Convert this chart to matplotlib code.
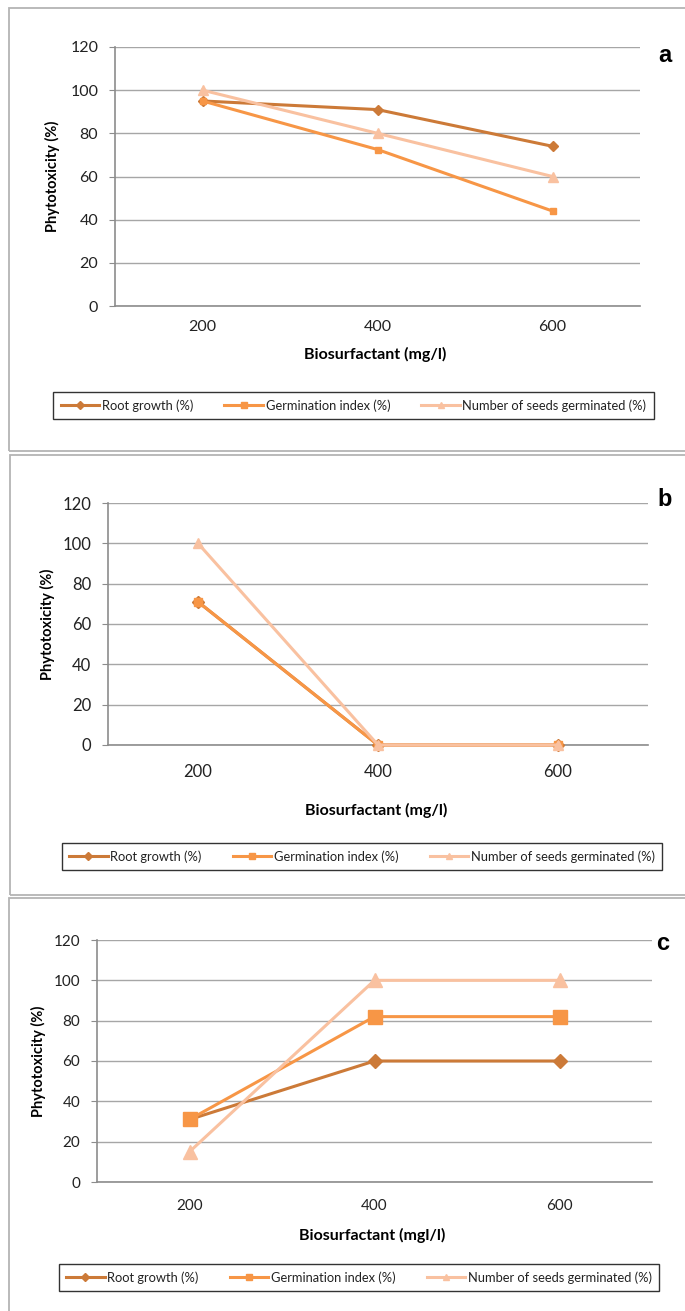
import matplotlib
matplotlib.use("Agg")
import matplotlib.pyplot as plt
from matplotlib.patches import Rectangle
from matplotlib.lines import Line2D

# ---- data ----
categories = ["200", "400", "600"]
series_names = ["Root growth (%)", "Germination index (%)", "Number of seeds germinated (%)"]

root_a = [95, 91, 74]
germ_a = [95, 72.5, 44]
seeds_a = [100, 80, 60]

root_b = [71, 0, 0]
germ_b = [71, 0, 0]
seeds_b = [100, 0, 0]

root_c = [31, 60, 60]
germ_c = [31, 82, 82]
seeds_c = [15, 100, 100]

y_ticks = [0, 20, 40, 60, 80, 100, 120]
panel_letters = ["a", "b", "c"]
x_labels = ["Biosurfactant (mg/l)", "Biosurfactant (mg/l)", "Biosurfactant (mgl/l)"]

# ---- style ----
colors = ["#CC7A38", "#F79646", "#F9C1A0"]
markers = ["D", "s", "^"]
W, H = 685, 1311
fig = plt.figure(figsize=(W / 100, H / 100), dpi=100)
fig.patch.set_facecolor("white")

FONT = ["Lato", "DejaVu Sans"]


def fx(x):
    return x / W


def fy(y):
    return 1 - y / H


def add_box(x0, y0, x1, y1):
    r = Rectangle((fx(x0), fy(y1)), fx(x1) - fx(x0), fy(y0) - fy(y1),
                  transform=fig.transFigure, fill=False, edgecolor="#B4B4B4",
                  linewidth=1.3, zorder=0)
    fig.patches.append(r)


# panel boxes
add_box(9, 8, 700, 451)
add_box(10, 455, 700, 895)
add_box(9, 898, 700, 1330)

panels = [
    dict(data=(root_a, germ_a, seeds_a), left=115, right=640, top=47, bottom=306,
         ms=(5, 5, 6.5), lw=2.2, tick_fs=11.5, ylab_x=52, xtick_y=327, xlab_y=354,
         leg=(45, 393, 662, 418), letter=(665, 55), ylab_fs=10.5, xlab_fs=11.5,
         leg_fs=9.3, colsp=2.4),
    dict(data=(root_b, germ_b, seeds_b), left=108, right=648, top=503, bottom=745,
         ms=(6, 6, 7.5), lw=2.2, tick_fs=12, ylab_x=47, xtick_y=772, xlab_y=810,
         leg=(52, 843, 672, 870), letter=(665, 500), ylab_fs=10.5, xlab_fs=11.5,
         leg_fs=9.3, colsp=2.4),
    dict(data=(root_c, germ_c, seeds_c), left=97, right=652, top=940, bottom=1182,
         ms=(7, 9.5, 9.5), lw=2.2, tick_fs=11, ylab_x=38, xtick_y=1206, xlab_y=1235,
         leg=(48, 1265, 670, 1290), letter=(663, 943), ylab_fs=10.5, xlab_fs=11.5,
         leg_fs=9.3, colsp=2.4),
]

xs = list(range(len(categories)))

for p, letter, xlab in zip(panels, panel_letters, x_labels):
    ax = fig.add_axes([fx(p["left"]), fy(p["bottom"]),
                       fx(p["right"]) - fx(p["left"]), fy(p["top"]) - fy(p["bottom"])])
    for vals, c, m, ms, name in zip(p["data"], colors, markers, p["ms"], series_names):
        ax.plot(xs, vals, color=c, marker=m, markersize=ms, linewidth=p["lw"],
                markeredgecolor=c, label=name, clip_on=False, zorder=3)
    ax.set_xlim(-0.5, len(categories) - 0.5)
    ax.set_ylim(0, 120)
    ax.set_yticks(y_ticks)
    ax.set_xticks(xs)
    ax.set_xticklabels([])
    ax.set_yticklabels([str(v) for v in y_ticks], fontsize=p["tick_fs"], family=FONT,
                       color="#222222")
    ax.grid(axis="y", color="#A6A6A6", linewidth=1.0, zorder=1)
    ax.set_axisbelow(True)
    for s in ["top", "right"]:
        ax.spines[s].set_visible(False)
    ax.spines["left"].set_color("#8C8C8C")
    ax.spines["bottom"].set_color("#8C8C8C")
    ax.spines["left"].set_linewidth(1.2)
    ax.spines["bottom"].set_linewidth(1.2)
    ax.tick_params(axis="y", length=4, color="#8C8C8C", pad=8)
    ax.tick_params(axis="x", length=0)
    for xi, lab in zip(xs, categories):
        xp = p["left"] + (xi + 0.5) / len(categories) * (p["right"] - p["left"])
        fig.text(fx(xp), fy(p["xtick_y"]), lab, ha="center", va="center",
                 fontsize=p["tick_fs"], family=FONT, color="#222222")
    fig.text(fx((p["left"] + p["right"]) / 2 - 2), fy(p["xlab_y"]), xlab, ha="center",
             va="center", fontsize=p["xlab_fs"], fontweight="bold", family=FONT)
    fig.text(fx(p["ylab_x"]), fy((p["top"] + p["bottom"]) / 2), "Phytotoxicity (%)",
             rotation=90, ha="center", va="center", fontsize=p["ylab_fs"],
             fontweight="bold", family=FONT)
    fig.text(fx(p["letter"][0]), fy(p["letter"][1]), letter, ha="center", va="center",
             fontsize=17, fontweight="bold", family=["Liberation Sans", "DejaVu Sans"])
    lx0, ly0, lx1, ly1 = p["leg"]
    leg_handles = [Line2D([], [], color=c, marker=m, markersize=4.5, linewidth=2.2,
                          markeredgecolor=c) for c, m in zip(colors, markers)]
    leg = fig.legend(handles=leg_handles, labels=series_names, loc="center",
                     bbox_to_anchor=(fx((lx0 + lx1) / 2), fy((ly0 + ly1) / 2)),
                     ncol=3, frameon=True, fancybox=False,
                     edgecolor="black", handlelength=3.0, columnspacing=p["colsp"],
                     handletextpad=0.2, borderpad=0.55,
                     prop={"family": FONT, "size": p["leg_fs"]})
    leg.get_frame().set_linewidth(1.0)
    for t in leg.get_texts():
        t.set_color("#222222")

fig.savefig("out.png", dpi=100, facecolor="white")
